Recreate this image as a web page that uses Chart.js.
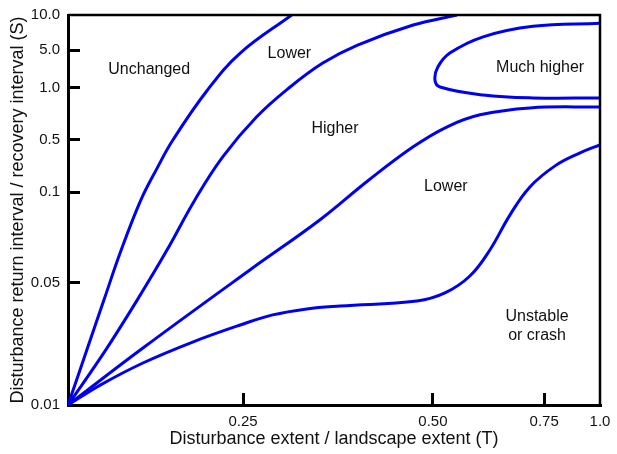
<!DOCTYPE html>
<html>
<head>
<meta charset="utf-8">
<script src="https://cdn.jsdelivr.net/npm/chart.js@4.4.1/dist/chart.umd.min.js"></script>
<style>
  html, body { margin: 0; padding: 0; background: #fff; }
  #wrap { width: 617px; height: 454px; }
</style>
</head>
<body>
<div id="wrap"><canvas id="chart"></canvas></div>
<script>
// tick values and labels
const extentTicks = [0, 0.25, 0.5, 0.75, 1.0];
const extentLabels = ["", "0.25", "0.50", "0.75", "1.0"];
const intervalTicks = [0.01, 0.05, 0.1, 0.5, 1, 5, 10];
const intervalLabels = ["0.01", "0.05", "0.1", "0.5", "1.0", "5.0", "10.0"];

// boundary curves: T (extent) and S (interval)
const unchangedT = [0, 0.027, 0.0514, 0.0757, 0.104, 0.126, 0.15, 0.199, 0.246, 0.314];
const unchangedS = [0.01, 0.0207, 0.04, 0.064, 0.094, 0.198, 0.5, 0.97, 4.4, 10];

const lowerT = [0, 0.054, 0.099, 0.141, 0.181, 0.221, 0.268, 0.312, 0.355, 0.4, 0.474, 0.554];
const lowerS = [0.01, 0.0207, 0.04, 0.064, 0.094, 0.295, 0.68, 1.04, 2.88, 5.5, 8.2, 10];

const muchHigherT = [1.0, 0.725, 0.613, 0.538, 0.511, 0.5045, 0.516, 0.613, 0.725, 1.0];
const muchHigherS = [8.5, 8.0, 6.5, 4.4, 2.43, 1.4, 1.04, 0.91, 0.875, 0.875];

const higherT = [0, 0.107, 0.259, 0.351, 0.414, 0.474, 0.532, 0.606, 0.718, 1.0];
const higherS = [0.01, 0.0212, 0.0552, 0.0808, 0.1405, 0.403, 0.595, 0.698, 0.766, 0.776];

const crashT = [0, 0.046, 0.107, 0.179, 0.246, 0.289, 0.334, 0.378, 0.479, 0.527, 0.583, 0.628, 0.673, 0.718, 0.799, 0.911, 1.0];
const crashS = [0.01, 0.013, 0.0174, 0.023, 0.0287, 0.0328, 0.0355, 0.0369, 0.0394, 0.0438, 0.0527, 0.0643, 0.0839, 0.117, 0.224, 0.334, 0.428];

// both axes are stretched unevenly between their ticks
const warpSpacing = {
  x: { knots: extentTicks, at: [0, 0.329, 0.686, 0.895, 1], log: false },
  y: { knots: intervalTicks, at: [0, 0.313, 0.546, 0.68, 0.813, 0.91, 1], log: true },
};

class WarpScale extends Chart.LinearScale {
  static id = "warp";
  static defaults = {};
  warp() {
    return warpSpacing[this.id];
  }
  buildTicks() {
    return this.warp().knots.map((v) => ({ value: v }));
  }
  toDecimal(v) {
    const w = this.warp();
    const k = w.knots;
    const f = w.log ? Math.log : (n) => n;
    let i = 0;
    while (i < k.length - 2 && v > k[i + 1]) i++;
    const t = (f(v) - f(k[i])) / (f(k[i + 1]) - f(k[i]));
    return w.at[i] + t * (w.at[i + 1] - w.at[i]);
  }
  getPixelForValue(v) {
    return this.getPixelForDecimal(this.toDecimal(v));
  }
  getValueForPixel(p) {
    const w = this.warp();
    const d = this.getDecimalForPixel(p);
    let i = 0;
    while (i < w.at.length - 2 && d > w.at[i + 1]) i++;
    const t = (d - w.at[i]) / (w.at[i + 1] - w.at[i]);
    const a = w.knots[i], b = w.knots[i + 1];
    return w.log ? Math.exp(Math.log(a) + t * (Math.log(b) - Math.log(a))) : a + t * (b - a);
  }
}
Chart.register(WarpScale);

const regionLabels = [
  { text: ["Unchanged"], t: 0.116, s: 2.14 },
  { text: ["Lower"], t: 0.311, s: 4.4 },
  { text: ["Much higher"], t: 0.741, s: 2.33 },
  { text: ["Higher"], t: 0.371, s: 0.58 },
  { text: ["Lower"], t: 0.529, s: 0.117 },
  { text: ["Unstable", "or crash"], t: 0.734, s: 0.0284 },
];

const frameAndText = {
  id: "frameAndText",
  afterDatasetsDraw(chart) {
    const { ctx, chartArea: a, scales } = chart;
    ctx.save();
    ctx.strokeStyle = "#000";
    ctx.lineWidth = 2.5;
    ctx.beginPath();
    ctx.moveTo(a.left, a.top);
    ctx.lineTo(a.right, a.top);
    ctx.lineTo(a.right, a.bottom);
    ctx.stroke();

    ctx.font = "16px 'Liberation Sans', Arial, sans-serif";
    ctx.fillStyle = "#111";
    ctx.textAlign = "center";
    ctx.textBaseline = "middle";
    regionLabels.forEach((l) => {
      const px = scales.x.getPixelForValue(l.t);
      const py = scales.y.getPixelForValue(l.s);
      const lh = 19;
      l.text.forEach((line, i) => {
        ctx.fillText(line, px, py + (i - (l.text.length - 1) / 2) * lh);
      });
    });
    ctx.restore();
  },
};

function curve(ts, ss) {
  return ts.map((t, i) => ({ x: t, y: ss[i] }));
}

const lineStyle = {
  showLine: true,
  borderColor: "#0000f0",
  borderWidth: 3,
  pointRadius: 0,
  fill: false,
  tension: 0.4,
};

const tickFont = { family: "'Liberation Sans', Arial, sans-serif", size: 15 };
const titleFont = { family: "'Liberation Sans', Arial, sans-serif", size: 18 };
const hideEnds = (n) => (c) => (c.index === 0 || c.index === n - 1 ? "rgba(0,0,0,0)" : "#000");

new Chart(document.getElementById("chart"), {
  type: "scatter",
  data: {
    datasets: [
      { label: "Unchanged / Lower", data: curve(unchangedT, unchangedS), ...lineStyle },
      { label: "Lower / Higher", data: curve(lowerT, lowerS), ...lineStyle },
      { label: "Much higher", data: curve(muchHigherT, muchHigherS), ...lineStyle },
      { label: "Higher / Lower", data: curve(higherT, higherS), ...lineStyle },
      { label: "Lower / Unstable", data: curve(crashT, crashS), ...lineStyle },
    ],
  },
  options: {
    responsive: true,
    maintainAspectRatio: false,
    animation: false,
    events: [],
    layout: { padding: { left: 0, top: 15, right: 17, bottom: 0 } },
    plugins: { legend: { display: false }, tooltip: { enabled: false } },
    scales: {
      x: {
        type: "warp",
        min: 0,
        max: 1,
        afterFit: (s) => {
          s.height = 49;
          s.paddingLeft = 0;
          s.paddingRight = 0;
        },
        border: { display: true, color: "#000", width: 3 },
        grid: { drawOnChartArea: false, tickLength: -12, lineWidth: 3, color: hideEnds(extentTicks.length) },
        ticks: {
          autoSkip: false,
          maxRotation: 0,
          padding: 20,
          color: "#111",
          font: tickFont,
          callback: (v, i) => extentLabels[i],
        },
        title: {
          display: true,
          text: "Disturbance extent / landscape extent (T)",
          color: "#111",
          font: titleFont,
          padding: { top: 0, bottom: 4 },
        },
      },
      y: {
        type: "warp",
        min: 0.01,
        max: 10,
        afterFit: (s) => {
          s.width = 68;
          s.paddingTop = 0;
          s.paddingBottom = 0;
        },
        border: { display: true, color: "#000", width: 3 },
        grid: { drawOnChartArea: false, tickLength: -12, lineWidth: 3, color: hideEnds(intervalTicks.length) },
        ticks: {
          autoSkip: false,
          padding: 20,
          color: "#111",
          font: tickFont,
          callback: (v, i) => intervalLabels[i],
        },
        title: {
          display: true,
          text: "Disturbance return interval / recovery interval (S)",
          color: "#111",
          font: titleFont,
          padding: { top: 7, bottom: 0 },
        },
      },
    },
  },
  plugins: [frameAndText],
});
</script>
</body>
</html>
